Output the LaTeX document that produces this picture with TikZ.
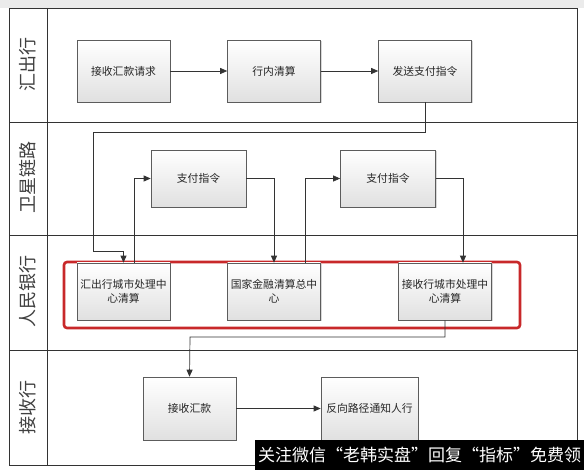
\documentclass[tikz,border=0pt]{standalone}
\usepackage{fontspec}
\setmainfont{Noto Sans CJK SC}
\usetikzlibrary{arrows.meta,shadows}
\definecolor{linec}{HTML}{333333}
\definecolor{redc}{HTML}{C8282A}
\tikzset{
  flowbox/.style={draw=linec!80, line width=0.6pt, top color=white, bottom color=black!12,
    minimum width=93pt, minimum height=62pt, align=center, inner sep=1pt,
    font=\fontsize{10.8}{14}\selectfont, text=black!85,
    drop shadow={shadow xshift=1.2pt, shadow yshift=-1.2pt, fill=black!25, opacity=0.6}},
  conn/.style={draw=linec, line width=0.7pt, -{Triangle[length=7pt,width=6pt]}},
  lanelabel/.style={rotate=90, font=\fontsize{18}{18}\selectfont, text=black!75},
  lanes/.style={draw=linec, line width=0.8pt}
}
\begin{document}
\begin{tikzpicture}[x=1pt,y=-1pt]
\useasboundingbox (0,0) rectangle (584,470);
\fill[white] (0,0) rectangle (584,470);
\fill[black!8] (0,0) rectangle (584,8);
% frame
\draw[lanes] (9,8) rectangle (577,465);
\draw[lanes] (47,8) -- (47,465);
\draw[lanes] (9,122) -- (577,122);
\draw[lanes] (9,235) -- (577,235);
\draw[lanes] (9,350) -- (577,350);
% lane labels
\node[lanelabel] (l1) at (28,65) {汇出行};
\node[lanelabel] (l2) at (28,178) {卫星链路};
\node[lanelabel] (l3) at (28,292) {人民银行};
\node[lanelabel] (l4) at (28,408) {接收行};
% red frame
\draw[redc, line width=2.6pt, rounded corners=3pt] (64,262) rectangle (520,328);
% boxes
\node[flowbox] (a1) at (123.5,71) {接收汇款请求};
\node[flowbox] (a2) at (274,71) {行内清算};
\node[flowbox] (a3) at (425,71) {发送支付指令};
\node[flowbox, minimum width=95pt, minimum height=57pt] (s1) at (198.5,178.5) {支付指令};
\node[flowbox, minimum width=95pt, minimum height=57pt] (s2) at (388,178.5) {支付指令};
\node[flowbox, minimum height=57pt] (p1) at (123.5,291.5) {汇出行城市处理中\\心清算};
\node[flowbox, minimum height=57pt] (p2) at (274,291.5) {国家金融清算总中\\心};
\node[flowbox, minimum height=57pt] (p3) at (445,291.5) {接收行城市处理中\\心清算};
\node[flowbox, minimum height=63pt] (r1) at (189.5,408.5) {接收汇款};
\node[flowbox, minimum width=97pt, minimum height=63pt] (r2) at (369.5,408.5) {反向路径通知人行};
% connectors
\coordinate (c1) at (93,132);
\coordinate (c2) at (93,251);
\coordinate (c3) at (190,337);
\draw[conn] (a1) -- (a2);
\draw[conn] (a2) -- (a3);
\draw[conn] (a3.south) |- (c1) -- (c2) -| (p1.north);
\draw[conn] ([xshift=10.5pt]p1.north) |- (s1.west);
\draw[conn] (s1.east) -| (p2.north);
\draw[conn] ([xshift=31pt]p2.north) |- (s2.west);
\draw[conn] (s2.east) -| ([xshift=18pt]p3.north);
\draw[conn] (p3.south) |- (c3) -- (r1.north);
\draw[conn] (r1) -- (r2);
% watermark banner
\node[fill=black, text=white, minimum width=329pt, minimum height=30pt, inner sep=0pt,
  font=\fontsize{17}{17}\selectfont, anchor=north west] (wm) at (255,440) {关注微信“老韩实盘”回复“指标”免费领};
\end{tikzpicture}
\end{document}
